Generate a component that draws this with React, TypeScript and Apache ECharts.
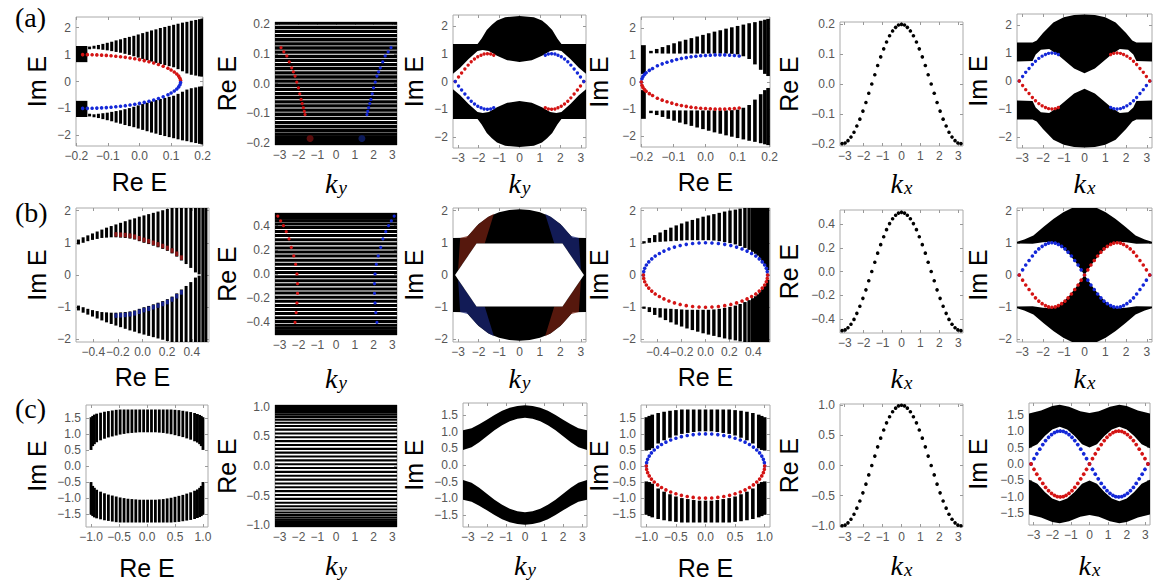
import React, { useEffect, useRef } from 'react';
import * as echarts from 'echarts';

// ================= tick values =================
const kTicks = [-3, -2, -1, 0, 1, 2, 3];
const intTicks2 = [-2, -1, 0, 1, 2];
const tenthTicks2 = [-0.2, -0.1, 0, 0.1, 0.2];
const fifthTicks4 = [-0.4, -0.2, 0, 0.2, 0.4];
const halfTicks1 = [-1, -0.5, 0, 0.5, 1];
const halfTicks15 = [-1.5, -1, -0.5, 0, 0.5, 1, 1.5];

// ================= shared k sampling (dots) =================
const kGrid = [-3.14,-2.98,-2.83,-2.67,-2.51,-2.36,-2.2,-2.04,-1.88,-1.73,-1.57,-1.41,-1.26,-1.1,-0.94,-0.79,-0.63,-0.47,-0.31,-0.16,0,0.16,0.31,0.47,0.63,0.79,0.94,1.1,1.26,1.41,1.57,1.73,1.88,2.04,2.2,2.36,2.51,2.67,2.83,2.98,3.14];
const sinK = [0,-0.16,-0.31,-0.45,-0.59,-0.71,-0.81,-0.89,-0.95,-0.99,-1,-0.99,-0.95,-0.89,-0.81,-0.71,-0.59,-0.45,-0.31,-0.16,0,0.16,0.31,0.45,0.59,0.71,0.81,0.89,0.95,0.99,1,0.99,0.95,0.89,0.81,0.71,0.59,0.45,0.31,0.16,0];
const negSinK = [0,0.16,0.31,0.45,0.59,0.71,0.81,0.89,0.95,0.99,1,0.99,0.95,0.89,0.81,0.71,0.59,0.45,0.31,0.16,0,-0.16,-0.31,-0.45,-0.59,-0.71,-0.81,-0.89,-0.95,-0.99,-1,-0.99,-0.95,-0.89,-0.81,-0.71,-0.59,-0.45,-0.31,-0.16,0];
const reEa5 = [-0.2,-0.198,-0.19,-0.178,-0.162,-0.141,-0.118,-0.091,-0.062,-0.031,0,0.031,0.062,0.091,0.118,0.141,0.162,0.178,0.19,0.198,0.2,0.198,0.19,0.178,0.162,0.141,0.118,0.091,0.062,0.031,0,-0.031,-0.062,-0.091,-0.118,-0.141,-0.162,-0.178,-0.19,-0.198,-0.2];
const reEb5 = [-0.5,-0.494,-0.476,-0.446,-0.405,-0.354,-0.294,-0.227,-0.155,-0.078,0,0.078,0.155,0.227,0.294,0.354,0.405,0.446,0.476,0.494,0.5,0.494,0.476,0.446,0.405,0.354,0.294,0.227,0.155,0.078,0,-0.078,-0.155,-0.227,-0.294,-0.354,-0.405,-0.446,-0.476,-0.494,-0.5];
const reEc5 = [-1,-0.988,-0.951,-0.891,-0.809,-0.707,-0.588,-0.454,-0.309,-0.156,0,0.156,0.309,0.454,0.588,0.707,0.809,0.891,0.951,0.988,1,0.988,0.951,0.891,0.809,0.707,0.588,0.454,0.309,0.156,0,-0.156,-0.309,-0.454,-0.588,-0.707,-0.809,-0.891,-0.951,-0.988,-1];

// ================= (a1) =================
const a1StripeX = [-0.158,-0.144,-0.13,-0.116,-0.102,-0.088,-0.074,-0.06,-0.046,-0.032,-0.018,-0.004,0.01,0.024,0.038,0.052,0.066,0.08,0.094,0.108,0.122,0.136,0.15,0.164,0.178,0.19,0.198];
const a1UpLo = [1.2,1.22,1.2,1.18,1.16,1.13,1.1,1.07,1.03,0.99,0.94,0.89,0.84,0.79,0.74,0.69,0.65,0.61,0.57,0.53,0.46,0.38,0.3,0.25,0.22,0.19,0.18];
const a1UpHi = [1.3,1.33,1.36,1.4,1.44,1.48,1.53,1.57,1.62,1.66,1.7,1.75,1.8,1.85,1.9,1.94,1.99,2.03,2.07,2.11,2.15,2.19,2.22,2.26,2.29,2.32,2.34];
const a1DnLo = [-1.3,-1.33,-1.36,-1.4,-1.44,-1.48,-1.53,-1.57,-1.62,-1.66,-1.7,-1.75,-1.8,-1.85,-1.9,-1.94,-1.99,-2.03,-2.07,-2.11,-2.15,-2.19,-2.22,-2.26,-2.29,-2.32,-2.34];
const a1DnHi = [-1.2,-1.22,-1.2,-1.18,-1.16,-1.13,-1.1,-1.07,-1.03,-0.99,-0.94,-0.89,-0.84,-0.79,-0.74,-0.69,-0.65,-0.61,-0.57,-0.53,-0.46,-0.38,-0.3,-0.25,-0.22,-0.19,-0.18];
const a1BlockUp = [[-0.201,0.72],[-0.165,0.72],[-0.165,1.32],[-0.201,1.32]];
const a1BlockDn = [[-0.201,-1.32],[-0.165,-1.32],[-0.165,-0.72],[-0.201,-0.72]];
const a1EllX = [-0.18,-0.165,-0.15,-0.135,-0.12,-0.105,-0.09,-0.075,-0.06,-0.045,-0.03,-0.015,0,0.015,0.03,0.045,0.06,0.075,0.09,0.1,0.11,0.118,0.124,0.128,0.13];
const a1RedY = [1,0.999,0.995,0.989,0.981,0.97,0.957,0.941,0.922,0.9,0.875,0.847,0.814,0.777,0.736,0.688,0.633,0.568,0.492,0.43,0.354,0.28,0.2,0.12,0.04];
const a1BlueY = [-1,-0.999,-0.995,-0.989,-0.981,-0.97,-0.957,-0.941,-0.922,-0.9,-0.875,-0.847,-0.814,-0.777,-0.736,-0.688,-0.633,-0.568,-0.492,-0.43,-0.354,-0.28,-0.2,-0.12,-0.04];

// ================= (a2) =================
const a2Levels = [0.204,0.19,0.176,0.162,0.148,0.134,0.12,0.106,0.092,0.078,0.064,0.05,0.036,0.022,0.008,-0.006,-0.02,-0.034,-0.048,-0.062,-0.076,-0.09,-0.104,-0.118,-0.132,-0.146,-0.159,-0.171,-0.181,-0.19,-0.197,-0.203];
const a2RedK = [-2.93,-2.78,-2.62,-2.49,-2.36,-2.27,-2.18,-2.09,-2.0,-1.93,-1.86,-1.8,-1.74,-1.69,-1.65];
const a2BlueK = [2.93,2.78,2.62,2.49,2.36,2.27,2.18,2.09,2.0,1.93,1.86,1.8,1.74,1.69,1.65];
const a2EdgeE = [0.121,0.107,0.093,0.073,0.053,0.039,0.025,0.005,-0.015,-0.035,-0.054,-0.068,-0.082,-0.094,-0.105];
const a2Blobs = [[-1.38,-0.186],[1.38,-0.186]];

// ================= (a3) =================
const a3Up = [[-3.25,0.28],[-3.25,1.35],[-2.05,1.35],[-1.85,1.55],[-1.6,1.86],[-1.35,2.05],[-1.1,2.2],[-0.7,2.32],[0,2.36],[0.7,2.32],[1.1,2.2],[1.35,2.05],[1.6,1.86],[1.85,1.55],[2.05,1.35],[3.25,1.35],[3.25,0.28],[2.9,0.5],[2.5,0.8],[2.2,1.0],[2.05,1.1],[1.8,1.14],[1.5,1.1],[1.1,0.93],[0.6,0.77],[0,0.7],[-0.6,0.77],[-1.1,0.93],[-1.5,1.1],[-1.8,1.14],[-2.05,1.1],[-2.2,1.0],[-2.5,0.8],[-2.9,0.5]];
const a3Dn = [[-3.25,-0.28],[-3.25,-1.35],[-2.05,-1.35],[-1.85,-1.55],[-1.6,-1.86],[-1.35,-2.05],[-1.1,-2.2],[-0.7,-2.32],[0,-2.36],[0.7,-2.32],[1.1,-2.2],[1.35,-2.05],[1.6,-1.86],[1.85,-1.55],[2.05,-1.35],[3.25,-1.35],[3.25,-0.28],[2.9,-0.5],[2.5,-0.8],[2.2,-1.0],[2.05,-1.1],[1.8,-1.14],[1.5,-1.1],[1.1,-0.93],[0.6,-0.77],[0,-0.7],[-0.6,-0.77],[-1.1,-0.93],[-1.5,-1.1],[-1.8,-1.14],[-2.05,-1.1],[-2.2,-1.0],[-2.5,-0.8],[-2.9,-0.5]];

// ================= (a4) =================
const a4StripeX = [-0.17,-0.152,-0.134,-0.116,-0.098,-0.08,-0.062,-0.044,-0.026,-0.008,0.01,0.028,0.046,0.064,0.082,0.1,0.118,0.136,0.154,0.172,0.185,0.195];
const a4UpLo = [1.06,1.06,1.05,1.05,1.05,1.05,1.05,1.05,1.05,1.05,1.05,1.05,1.05,1.05,1.04,1.02,0.95,0.85,0.65,0.45,0.3,0.22];
const a4UpHi = [1.15,1.22,1.29,1.36,1.43,1.5,1.56,1.62,1.68,1.74,1.8,1.86,1.91,1.97,2.02,2.07,2.12,2.17,2.21,2.26,2.3,2.33];
const a4DnLo = [-1.15,-1.22,-1.29,-1.36,-1.43,-1.5,-1.56,-1.62,-1.68,-1.74,-1.8,-1.86,-1.91,-1.97,-2.02,-2.07,-2.12,-2.17,-2.21,-2.26,-2.3,-2.33];
const a4DnHi = [-1.06,-1.06,-1.05,-1.05,-1.05,-1.05,-1.05,-1.05,-1.05,-1.05,-1.05,-1.05,-1.05,-1.05,-1.04,-1.02,-0.95,-0.85,-0.65,-0.45,-0.3,-0.22];
const a4BlockUp = [[-0.201,0.3],[-0.186,0.3],[-0.186,1.36],[-0.201,1.36]];
const a4BlockDn = [[-0.201,-1.36],[-0.186,-1.36],[-0.186,-0.3],[-0.201,-0.3]];
const a4EllX = [-0.2,-0.198,-0.195,-0.19,-0.185,-0.175,-0.165,-0.15,-0.135,-0.12,-0.105,-0.09,-0.075,-0.06,-0.045,-0.03,-0.015,0,0.015,0.03,0.045,0.06,0.075,0.09,0.105];
const a4BlueY = [0,0.12,0.2,0.28,0.34,0.43,0.5,0.6,0.67,0.73,0.78,0.83,0.87,0.9,0.93,0.95,0.97,0.98,0.99,1.0,1.0,1.0,0.99,0.98,0.96];
const a4RedY = [0,-0.12,-0.2,-0.28,-0.34,-0.43,-0.5,-0.6,-0.67,-0.73,-0.78,-0.83,-0.87,-0.9,-0.93,-0.95,-0.97,-0.98,-0.99,-1.0,-1.0,-1.0,-0.99,-0.98,-0.96];

// ================= (a6) =================
const a6Up = [[-3.25,0.7],[-3.25,1.38],[-2.5,1.38],[-2.3,1.45],[-2.0,1.72],[-1.5,2.1],[-1.0,2.28],[-0.5,2.36],[0,2.38],[0.5,2.36],[1.0,2.28],[1.5,2.1],[2.0,1.72],[2.3,1.45],[2.5,1.38],[3.25,1.38],[3.25,0.7],[2.5,0.72],[2.35,0.95],[2.1,1.12],[1.7,1.15],[1.3,0.95],[0.9,0.7],[0.5,0.45],[0,0.28],[-0.5,0.45],[-0.9,0.7],[-1.3,0.95],[-1.7,1.15],[-2.1,1.12],[-2.35,0.95],[-2.5,0.72]];
const a6Dn = [[-3.25,-0.7],[-3.25,-1.38],[-2.5,-1.38],[-2.3,-1.45],[-2.0,-1.72],[-1.5,-2.1],[-1.0,-2.28],[-0.5,-2.36],[0,-2.38],[0.5,-2.36],[1.0,-2.28],[1.5,-2.1],[2.0,-1.72],[2.3,-1.45],[2.5,-1.38],[3.25,-1.38],[3.25,-0.7],[2.5,-0.72],[2.35,-0.95],[2.1,-1.12],[1.7,-1.15],[1.3,-0.95],[0.9,-0.7],[0.5,-0.45],[0,-0.28],[-0.5,-0.45],[-0.9,-0.7],[-1.3,-0.95],[-1.7,-1.15],[-2.1,-1.12],[-2.35,-0.95],[-2.5,-0.72]];

// ================= (b1) =================
const b1StripeX = [-0.52,-0.482,-0.444,-0.406,-0.368,-0.33,-0.292,-0.254,-0.216,-0.178,-0.14,-0.102,-0.064,-0.026,0.012,0.05,0.088,0.126,0.164,0.202,0.24,0.278,0.316,0.354,0.392,0.43,0.46,0.49,0.515];
const b1UpLo = [0.95,1.0,1.05,1.09,1.12,1.15,1.16,1.17,1.17,1.16,1.15,1.13,1.1,1.05,1.0,0.96,0.91,0.86,0.81,0.75,0.67,0.57,0.45,0.34,0.22,0.08,0.02,0.0,0.0];
const b1UpHi = [1.1,1.17,1.23,1.29,1.35,1.41,1.47,1.52,1.57,1.62,1.67,1.72,1.76,1.81,1.85,1.89,1.93,1.97,2.01,2.05,2.08,2.08,2.08,2.08,2.08,2.08,2.08,2.08,2.08];
const b1DnLo = [-1.1,-1.17,-1.23,-1.29,-1.35,-1.41,-1.47,-1.52,-1.57,-1.62,-1.67,-1.72,-1.76,-1.81,-1.85,-1.89,-1.93,-1.97,-2.01,-2.05,-2.08,-2.08,-2.08,-2.08,-2.08,-2.08,-2.08,-2.08,-2.08];
const b1DnHi = [-0.95,-1.0,-1.05,-1.09,-1.12,-1.15,-1.16,-1.17,-1.17,-1.16,-1.15,-1.13,-1.1,-1.05,-1.0,-0.96,-0.91,-0.86,-0.81,-0.75,-0.67,-0.57,-0.45,-0.34,-0.22,-0.08,-0.02,0.0,0.0];
const b1TintX = [-0.216,-0.178,-0.14,-0.102,-0.064,-0.026,0.012,0.05,0.088,0.126,0.164,0.202,0.24,0.278,0.316];
const b1RedLo = [1.19,1.18,1.17,1.15,1.12,1.07,1.02,0.98,0.93,0.88,0.83,0.77,0.69,0.59,0.47];
const b1RedHi = [1.33,1.32,1.31,1.29,1.26,1.21,1.16,1.12,1.07,1.02,0.97,0.91,0.83,0.73,0.61];
const b1BlueLo = [-1.33,-1.32,-1.31,-1.29,-1.26,-1.21,-1.16,-1.12,-1.07,-1.02,-0.97,-0.91,-0.83,-0.73,-0.61];
const b1BlueHi = [-1.19,-1.18,-1.17,-1.15,-1.12,-1.07,-1.02,-0.98,-0.93,-0.88,-0.83,-0.77,-0.69,-0.59,-0.47];

// ================= (b2) =================
const b2Levels = [0.5,0.49,0.478,0.462,0.44,0.414,0.384,0.352,0.318,0.284,0.25,0.216,0.182,0.148,0.114,0.08,0.046,0.012,-0.022,-0.056,-0.09,-0.124,-0.158,-0.192,-0.226,-0.26,-0.294,-0.328,-0.362,-0.394,-0.424,-0.45,-0.47,-0.486,-0.498,-0.505];
const b2RedK = [-3.1,-2.95,-2.8,-2.65,-2.5,-2.38,-2.25,-2.15,-2.08,-2.05,-2.05,-2.08,-2.12,-2.18];
const b2BlueK = [3.1,2.95,2.8,2.65,2.5,2.38,2.25,2.15,2.08,2.05,2.05,2.08,2.12,2.18];
const b2EdgeE = [0.48,0.44,0.4,0.35,0.29,0.22,0.15,0.08,0.0,-0.08,-0.16,-0.24,-0.32,-0.4];

// ================= (b3) =================
const b3Outer = [[-3.25,1.15],[-2.6,1.16],[-2.4,1.3],[-2.0,1.58],[-1.5,1.82],[-1.0,1.95],[-0.5,2.02],[0,2.04],[0.5,2.02],[1.0,1.95],[1.5,1.82],[2.0,1.58],[2.4,1.3],[2.6,1.16],[3.25,1.15],[3.25,-1.15],[2.6,-1.16],[2.4,-1.3],[2.0,-1.58],[1.5,-1.82],[1.0,-1.95],[0.5,-2.02],[0,-2.04],[-0.5,-2.02],[-1.0,-1.95],[-1.5,-1.82],[-2.0,-1.58],[-2.4,-1.3],[-2.6,-1.16],[-3.25,-1.15]];
const b3Hole = [[-3.15,0],[-2.1,0.98],[2.1,0.98],[3.15,0],[2.1,-0.98],[-2.1,-0.98]];
const b3RedUL = [[-3.0,0.15],[-2.1,0.98],[-1.7,0.98],[-1.25,1.9],[-1.6,1.78],[-2.1,1.52],[-2.5,1.22],[-2.9,1.15]];
const b3BlueUR = [[3.0,0.15],[2.1,0.98],[1.7,0.98],[1.25,1.9],[1.6,1.78],[2.1,1.52],[2.5,1.22],[2.9,1.15]];
const b3BlueLL = [[-3.0,-0.15],[-2.1,-0.98],[-1.7,-0.98],[-1.25,-1.9],[-1.6,-1.78],[-2.1,-1.52],[-2.5,-1.22],[-2.9,-1.15]];
const b3RedLR = [[3.0,-0.15],[2.1,-0.98],[1.7,-0.98],[1.25,-1.9],[1.6,-1.78],[2.1,-1.52],[2.5,-1.22],[2.9,-1.15]];

// ================= (b4) =================
const b4StripeX = [-0.515,-0.47,-0.425,-0.38,-0.335,-0.29,-0.245,-0.2,-0.155,-0.11,-0.065,-0.02,0.025,0.07,0.115,0.16,0.205,0.25,0.29,0.33,0.365,0.395,0.42,0.44,0.46,0.48,0.5,0.52];
const b4UpLo = [0.98,1.0,1.02,1.03,1.04,1.05,1.06,1.07,1.08,1.08,1.08,1.08,1.08,1.07,1.05,1.02,0.99,0.95,0.9,0.84,0.78,0.72,0.66,0.6,0.52,0.43,0.32,0.15];
const b4UpHi = [1.05,1.15,1.24,1.32,1.4,1.47,1.54,1.6,1.66,1.71,1.76,1.81,1.85,1.89,1.93,1.97,2.0,2.03,2.06,2.08,2.08,2.08,2.08,2.08,2.08,2.08,2.08,2.08];
const b4DnLo = [-1.05,-1.15,-1.24,-1.32,-1.4,-1.47,-1.54,-1.6,-1.66,-1.71,-1.76,-1.81,-1.85,-1.89,-1.93,-1.97,-2.0,-2.03,-2.06,-2.08,-2.08,-2.08,-2.08,-2.08,-2.08,-2.08,-2.08,-2.08];
const b4DnHi = [-0.98,-1.0,-1.02,-1.03,-1.04,-1.05,-1.06,-1.07,-1.08,-1.08,-1.08,-1.08,-1.08,-1.07,-1.05,-1.02,-0.99,-0.95,-0.9,-0.84,-0.78,-0.72,-0.66,-0.6,-0.52,-0.43,-0.32,-0.15];
const b4EllX = [-0.52,-0.517,-0.509,-0.495,-0.475,-0.45,-0.421,-0.386,-0.348,-0.306,-0.26,-0.212,-0.161,-0.108,-0.054,0,0.054,0.108,0.161,0.212,0.26,0.306,0.348,0.386,0.421,0.45,0.475,0.495,0.509,0.517,0.52];
const ellUpY = [0,0.105,0.208,0.309,0.407,0.5,0.588,0.669,0.743,0.809,0.866,0.914,0.951,0.978,0.995,1,0.995,0.978,0.951,0.914,0.866,0.809,0.743,0.669,0.588,0.5,0.407,0.309,0.208,0.105,0];
const ellDnY = [0,-0.105,-0.208,-0.309,-0.407,-0.5,-0.588,-0.669,-0.743,-0.809,-0.866,-0.914,-0.951,-0.978,-0.995,-1,-0.995,-0.978,-0.951,-0.914,-0.866,-0.809,-0.743,-0.669,-0.588,-0.5,-0.407,-0.309,-0.208,-0.105,0];

// ================= (b6) =================
const b6Up = [[-3.25,0.98],[-3.25,1.03],[-2.9,1.1],[-2.46,1.23],[-1.98,1.49],[-1.5,1.74],[-1.02,1.95],[-0.6,2.08],[0.6,2.08],[1.02,1.95],[1.5,1.74],[1.98,1.49],[2.46,1.23],[2.9,1.1],[3.25,1.03],[3.25,0.98],[2.5,0.97],[2.0,1.02],[1.6,1.03],[1.3,0.96],[1.0,0.82],[0.7,0.62],[0.4,0.37],[0,0.0],[-0.4,0.37],[-0.7,0.62],[-1.0,0.82],[-1.3,0.96],[-1.6,1.03],[-2.0,1.02],[-2.5,0.97]];
const b6Dn = [[-3.25,-0.98],[-3.25,-1.03],[-2.9,-1.1],[-2.46,-1.23],[-1.98,-1.49],[-1.5,-1.74],[-1.02,-1.95],[-0.6,-2.08],[0.6,-2.08],[1.02,-1.95],[1.5,-1.74],[1.98,-1.49],[2.46,-1.23],[2.9,-1.1],[3.25,-1.03],[3.25,-0.98],[2.5,-0.97],[2.0,-1.02],[1.6,-1.03],[1.3,-0.96],[1.0,-0.82],[0.7,-0.62],[0.4,-0.37],[0,0.0],[-0.4,-0.37],[-0.7,-0.62],[-1.0,-0.82],[-1.3,-0.96],[-1.6,-1.03],[-2.0,-1.02],[-2.5,-0.97]];

// ================= (c1) =================
const c1StripeX = [-1.0,-0.97,-0.94,-0.9,-0.83,-0.76,-0.69,-0.62,-0.55,-0.48,-0.41,-0.34,-0.27,-0.2,-0.13,-0.06,0.01,0.08,0.15,0.22,0.29,0.36,0.43,0.5,0.57,0.64,0.71,0.78,0.85,0.9,0.94,0.97,1.0];
const c1UpLo = [0.5,0.62,0.68,0.74,0.8,0.85,0.89,0.92,0.95,0.98,1.0,1.02,1.03,1.04,1.05,1.05,1.05,1.05,1.05,1.04,1.03,1.01,0.99,0.96,0.93,0.9,0.86,0.82,0.77,0.73,0.68,0.62,0.5];
const c1UpHi = [1.52,1.56,1.6,1.63,1.66,1.69,1.71,1.73,1.75,1.76,1.76,1.76,1.76,1.76,1.76,1.76,1.76,1.76,1.76,1.76,1.76,1.76,1.76,1.75,1.74,1.72,1.7,1.68,1.65,1.62,1.59,1.56,1.52];
const c1DnLo = [-1.52,-1.56,-1.6,-1.63,-1.66,-1.69,-1.71,-1.73,-1.75,-1.76,-1.76,-1.76,-1.76,-1.76,-1.76,-1.76,-1.76,-1.76,-1.76,-1.76,-1.76,-1.76,-1.76,-1.75,-1.74,-1.72,-1.7,-1.68,-1.65,-1.62,-1.59,-1.56,-1.52];
const c1DnHi = [-0.5,-0.62,-0.68,-0.74,-0.8,-0.85,-0.89,-0.92,-0.95,-0.98,-1.0,-1.02,-1.03,-1.04,-1.05,-1.05,-1.05,-1.05,-1.05,-1.04,-1.03,-1.01,-0.99,-0.96,-0.93,-0.9,-0.86,-0.82,-0.77,-0.73,-0.68,-0.62,-0.5];

// ================= (c2) =================
const c2Levels = [1.02,1.0,0.98,0.955,0.93,0.9,0.865,0.825,0.78,0.73,0.675,0.615,0.55,0.485,0.42,0.355,0.29,0.225,0.16,0.095,0.03,-0.035,-0.1,-0.165,-0.23,-0.295,-0.36,-0.425,-0.49,-0.555,-0.62,-0.68,-0.735,-0.785,-0.83,-0.87,-0.905,-0.935,-0.96,-0.98,-1.0,-1.02];

// ================= (c3) =================
const c3Up = [[-3.25,0.45],[-3.25,1.04],[-2.8,1.1],[-2.4,1.22],[-2.0,1.36],[-1.6,1.5],[-1.2,1.63],[-0.8,1.72],[-0.4,1.77],[0,1.79],[0.4,1.77],[0.8,1.72],[1.2,1.63],[1.6,1.5],[2.0,1.36],[2.4,1.22],[2.8,1.1],[3.25,1.04],[3.25,0.45],[2.8,0.53],[2.4,0.68],[2.0,0.86],[1.6,1.04],[1.2,1.19],[0.8,1.31],[0.4,1.39],[0,1.42],[-0.4,1.39],[-0.8,1.31],[-1.2,1.19],[-1.6,1.04],[-2.0,0.86],[-2.4,0.68],[-2.8,0.53]];
const c3Dn = [[-3.25,-0.45],[-3.25,-1.04],[-2.8,-1.1],[-2.4,-1.22],[-2.0,-1.36],[-1.6,-1.5],[-1.2,-1.63],[-0.8,-1.72],[-0.4,-1.77],[0,-1.79],[0.4,-1.77],[0.8,-1.72],[1.2,-1.63],[1.6,-1.5],[2.0,-1.36],[2.4,-1.22],[2.8,-1.1],[3.25,-1.04],[3.25,-0.45],[2.8,-0.53],[2.4,-0.68],[2.0,-0.86],[1.6,-1.04],[1.2,-1.19],[0.8,-1.31],[0.4,-1.39],[0,-1.42],[-0.4,-1.39],[-0.8,-1.31],[-1.2,-1.19],[-1.6,-1.04],[-2.0,-0.86],[-2.4,-0.68],[-2.8,-0.53]];

// ================= (c4) =================
const c4StripeX = [-1.0,-0.95,-0.9,-0.8,-0.7,-0.6,-0.5,-0.4,-0.3,-0.2,-0.1,0,0.1,0.2,0.3,0.4,0.5,0.6,0.7,0.8,0.9,0.95,1.0];
const c4UpLo = [0.48,0.5,0.55,0.7,0.8,0.88,0.95,1.0,1.03,1.06,1.08,1.08,1.08,1.06,1.03,1.0,0.95,0.88,0.8,0.7,0.55,0.5,0.48];
const c4UpHi = [1.52,1.56,1.6,1.65,1.69,1.72,1.74,1.76,1.76,1.76,1.76,1.76,1.76,1.76,1.76,1.76,1.74,1.72,1.69,1.65,1.6,1.56,1.52];
const c4DnLo = [-1.52,-1.56,-1.6,-1.65,-1.69,-1.72,-1.74,-1.76,-1.76,-1.76,-1.76,-1.76,-1.76,-1.76,-1.76,-1.76,-1.74,-1.72,-1.69,-1.65,-1.6,-1.56,-1.52];
const c4DnHi = [-0.48,-0.5,-0.55,-0.7,-0.8,-0.88,-0.95,-1.0,-1.03,-1.06,-1.08,-1.08,-1.08,-1.06,-1.03,-1.0,-0.95,-0.88,-0.8,-0.7,-0.55,-0.5,-0.48];
const c4EllX = [-1,-0.995,-0.978,-0.951,-0.914,-0.866,-0.809,-0.743,-0.669,-0.588,-0.5,-0.407,-0.309,-0.208,-0.105,0,0.105,0.208,0.309,0.407,0.5,0.588,0.669,0.743,0.809,0.866,0.914,0.951,0.978,0.995,1];

// ================= (c6) =================
const c6Up = [[-3.25,0.48],[-3.25,1.53],[-2.6,1.62],[-2.0,1.76],[-1.6,1.8],[-1.1,1.74],[-0.5,1.6],[0,1.55],[0.5,1.6],[1.1,1.74],[1.6,1.8],[2.0,1.76],[2.6,1.62],[3.25,1.53],[3.25,0.48],[2.8,0.6],[2.4,0.85],[2.0,1.05],[1.6,1.13],[1.2,1.05],[0.8,0.85],[0.4,0.6],[0,0.5],[-0.4,0.6],[-0.8,0.85],[-1.2,1.05],[-1.6,1.13],[-2.0,1.05],[-2.4,0.85],[-2.8,0.6]];
const c6Dn = [[-3.25,-0.48],[-3.25,-1.53],[-2.6,-1.62],[-2.0,-1.76],[-1.6,-1.8],[-1.1,-1.74],[-0.5,-1.6],[0,-1.55],[0.5,-1.6],[1.1,-1.74],[1.6,-1.8],[2.0,-1.76],[2.6,-1.62],[3.25,-1.53],[3.25,-0.48],[2.8,-0.6],[2.4,-0.85],[2.0,-1.05],[1.6,-1.13],[1.2,-1.05],[0.8,-0.85],[0.4,-0.6],[0,-0.5],[-0.4,-0.6],[-0.8,-0.85],[-1.2,-1.05],[-1.6,-1.13],[-2.0,-1.05],[-2.4,-0.85],[-2.8,-0.6]];

// ================= layout (positions / styles) =================
const RED = '#d41414';
const BLUE = '#1428d8';
const BLACK = '#000000';
const ROW_NAME_Y = [182, 377, 568];
const ROW_K_Y = [183, 378, 565];
const COL_NAME_X = [37, 227, 414, 599, 789, 978];

type Panel = { id: string; row: number; col: number; left: number; top: number; width: number; height: number;
  x: number[]; y: number[]; xt: number[]; xd: number; yt: number[]; yd: number; xn: string; yn: string };

const PANELS: Panel[] = [
  { id: 'a1', row: 0, col: 0, left: 76, top: 17, width: 127, height: 129, x: [-0.201, 0.201], y: [-2.4, 2.4], xt: tenthTicks2, xd: 1, yt: intTicks2, yd: 0, xn: 'Re E', yn: 'Im E' },
  { id: 'a2', row: 0, col: 1, left: 275, top: 22, width: 122, height: 123, x: [-3.25, 3.25], y: [-0.208, 0.208], xt: kTicks, xd: 0, yt: tenthTicks2, yd: 1, xn: 'ky', yn: 'Re E' },
  { id: 'a3', row: 0, col: 2, left: 453, top: 15, width: 133, height: 133, x: [-3.25, 3.25], y: [-2.4, 2.4], xt: kTicks, xd: 0, yt: intTicks2, yd: 0, xn: 'ky', yn: 'Im E' },
  { id: 'a4', row: 0, col: 3, left: 641, top: 17, width: 129, height: 130, x: [-0.201, 0.201], y: [-2.4, 2.4], xt: tenthTicks2, xd: 1, yt: intTicks2, yd: 0, xn: 'Re E', yn: 'Im E' },
  { id: 'a5', row: 0, col: 4, left: 840, top: 22, width: 123, height: 124, x: [-3.25, 3.25], y: [-0.208, 0.208], xt: kTicks, xd: 0, yt: tenthTicks2, yd: 1, xn: 'kx', yn: 'Re E' },
  { id: 'a6', row: 0, col: 5, left: 1017, top: 14, width: 135, height: 134, x: [-3.25, 3.25], y: [-2.4, 2.4], xt: kTicks, xd: 0, yt: intTicks2, yd: 0, xn: 'kx', yn: 'Im E' },
  { id: 'b1', row: 1, col: 0, left: 76, top: 208, width: 133, height: 134, x: [-0.54, 0.54], y: [-2.08, 2.08], xt: fifthTicks4, xd: 1, yt: intTicks2, yd: 0, xn: 'Re E', yn: 'Im E' },
  { id: 'b2', row: 1, col: 1, left: 275, top: 213, width: 122, height: 122, x: [-3.25, 3.25], y: [-0.505, 0.505], xt: kTicks, xd: 0, yt: fifthTicks4, yd: 1, xn: 'ky', yn: 'Re E' },
  { id: 'b3', row: 1, col: 2, left: 453, top: 208, width: 133, height: 134, x: [-3.25, 3.25], y: [-2.08, 2.08], xt: kTicks, xd: 0, yt: intTicks2, yd: 0, xn: 'ky', yn: 'Im E' },
  { id: 'b4', row: 1, col: 3, left: 641, top: 208, width: 129, height: 134, x: [-0.54, 0.54], y: [-2.08, 2.08], xt: fifthTicks4, xd: 1, yt: intTicks2, yd: 0, xn: 'Re E', yn: 'Im E' },
  { id: 'b5', row: 1, col: 4, left: 840, top: 210, width: 123, height: 123, x: [-3.25, 3.25], y: [-0.52, 0.52], xt: kTicks, xd: 0, yt: fifthTicks4, yd: 1, xn: 'kx', yn: 'Re E' },
  { id: 'b6', row: 1, col: 5, left: 1017, top: 208, width: 135, height: 134, x: [-3.25, 3.25], y: [-2.08, 2.08], xt: kTicks, xd: 0, yt: intTicks2, yd: 0, xn: 'kx', yn: 'Im E' },
  { id: 'c1', row: 2, col: 0, left: 86, top: 405, width: 122, height: 122, x: [-1.09, 1.09], y: [-1.9, 1.9], xt: halfTicks1, xd: 1, yt: halfTicks15, yd: 1, xn: 'Re E', yn: 'Im E' },
  { id: 'c2', row: 2, col: 1, left: 275, top: 405, width: 122, height: 122, x: [-3.25, 3.25], y: [-1.03, 1.03], xt: kTicks, xd: 0, yt: halfTicks1, yd: 1, xn: 'ky', yn: 'Re E' },
  { id: 'c3', row: 2, col: 2, left: 463, top: 403, width: 124, height: 124, x: [-3.25, 3.25], y: [-1.86, 1.86], xt: kTicks, xd: 0, yt: halfTicks15, yd: 1, xn: 'ky', yn: 'Im E' },
  { id: 'c4', row: 2, col: 3, left: 641, top: 405, width: 129, height: 122, x: [-1.09, 1.09], y: [-1.9, 1.9], xt: halfTicks1, xd: 1, yt: halfTicks15, yd: 1, xn: 'Re E', yn: 'Im E' },
  { id: 'c5', row: 2, col: 4, left: 840, top: 404, width: 123, height: 123, x: [-3.25, 3.25], y: [-1.02, 1.02], xt: kTicks, xd: 0, yt: halfTicks1, yd: 1, xn: 'kx', yn: 'Re E' },
  { id: 'c6', row: 2, col: 5, left: 1029, top: 403, width: 121, height: 122, x: [-3.25, 3.25], y: [-1.85, 1.85], xt: kTicks, xd: 0, yt: halfTicks15, yd: 1, xn: 'kx', yn: 'Im E' },
];

// ================= helpers =================
const zip = (xs: number[], ys: number[]) => xs.map((x, i) => [x, ys[i]]);
const vStripes = (xs: number[], lo: number[], hi: number[]) => xs.map((x, i) => [x, lo[i], x, hi[i]]);
const hLines = (levels: number[]) => levels.map((y) => [-3.3, y, 3.3, y]);
const visible = (pts: number[][], minAbsK: number) => pts.filter((p) => Math.abs(p[0]) >= minAbsK);

function polySeries(gi: number, polys: number[][][], fill: string, opacity = 1, z = 2) {
  return {
    type: 'custom', xAxisIndex: gi, yAxisIndex: gi, silent: true, clip: true, z,
    data: polys.map((pl, i) => [pl[0][0], pl[0][1], i]),
    encode: { x: 0, y: 1 },
    renderItem: (_p: any, api: any) => ({
      type: 'polygon',
      shape: { points: polys[api.value(2)].map((pt) => api.coord(pt)) },
      style: { fill, opacity },
    }),
  };
}

function segSeries(gi: number, segs: number[][], stroke: string, lineWidth: number, z = 3) {
  return {
    type: 'custom', xAxisIndex: gi, yAxisIndex: gi, silent: true, clip: true, z,
    data: segs,
    encode: { x: [0, 2], y: [1, 3] },
    renderItem: (_p: any, api: any) => {
      const a = api.coord([api.value(0), api.value(1)]);
      const b = api.coord([api.value(2), api.value(3)]);
      return { type: 'line', shape: { x1: a[0], y1: a[1], x2: b[0], y2: b[1] }, style: { stroke, lineWidth } };
    },
  };
}

function dotSeries(gi: number, pts: number[][], color: string, size = 3.6, z = 6) {
  return {
    type: 'scatter', xAxisIndex: gi, yAxisIndex: gi, silent: true, clip: true, z,
    data: pts, symbol: 'circle', symbolSize: size, itemStyle: { color, opacity: 1 },
  };
}

function panelSeries(id: string, gi: number): any[] {
  switch (id) {
    case 'a1': return [
      polySeries(gi, [a1BlockUp, a1BlockDn], BLACK),
      segSeries(gi, vStripes(a1StripeX, a1UpLo, a1UpHi), BLACK, 3),
      segSeries(gi, vStripes(a1StripeX, a1DnLo, a1DnHi), BLACK, 3),
      dotSeries(gi, zip(a1EllX, a1RedY), RED, 3.6),
      dotSeries(gi, zip(a1EllX, a1BlueY), BLUE, 3.6),
    ];
    case 'a2': return [
      segSeries(gi, hLines(a2Levels), BLACK, 3.3),
      dotSeries(gi, zip(a2RedK, a2EdgeE), RED, 3.2),
      dotSeries(gi, zip(a2BlueK, a2EdgeE), BLUE, 3.2),
      dotSeries(gi, [a2Blobs[0]], '#5a0c0c', 7),
      dotSeries(gi, [a2Blobs[1]], '#0c1a5a', 7),
    ];
    case 'a3': return [
      polySeries(gi, [a3Up, a3Dn], BLACK),
      dotSeries(gi, visible(zip(kGrid, negSinK), 1.26), RED, 3.4),
      dotSeries(gi, visible(zip(kGrid, sinK), 1.26), BLUE, 3.4),
    ];
    case 'a4': return [
      polySeries(gi, [a4BlockUp, a4BlockDn], BLACK),
      segSeries(gi, vStripes(a4StripeX, a4UpLo, a4UpHi), BLACK, 3.6),
      segSeries(gi, vStripes(a4StripeX, a4DnLo, a4DnHi), BLACK, 3.6),
      dotSeries(gi, zip(a4EllX, a4BlueY), BLUE, 3.6),
      dotSeries(gi, zip(a4EllX, a4RedY), RED, 3.6),
    ];
    case 'a5': return [dotSeries(gi, zip(kGrid, reEa5), BLACK, 3.6)];
    case 'a6': return [
      polySeries(gi, [a6Up, a6Dn], BLACK),
      dotSeries(gi, visible(zip(kGrid, negSinK), 1.26), BLUE, 3.4),
      dotSeries(gi, visible(zip(kGrid, sinK), 1.26), RED, 3.4),
    ];
    case 'b1': return [
      segSeries(gi, vStripes(b1StripeX, b1UpLo, b1UpHi), BLACK, 3),
      segSeries(gi, vStripes(b1StripeX, b1DnLo, b1DnHi), BLACK, 3),
      segSeries(gi, vStripes(b1TintX, b1RedLo, b1RedHi), '#8a1414', 3, 4),
      segSeries(gi, vStripes(b1TintX, b1BlueLo, b1BlueHi), '#14208a', 3, 4),
    ];
    case 'b2': return [
      segSeries(gi, hLines(b2Levels), BLACK, 3),
      dotSeries(gi, zip(b2RedK, b2EdgeE), RED, 3.2),
      dotSeries(gi, zip(b2BlueK, b2EdgeE), BLUE, 3.2),
    ];
    case 'b3': return [
      polySeries(gi, [b3Outer], BLACK, 1, 2),
      polySeries(gi, [b3RedUL, b3RedLR], '#7a2212', 0.7, 3),
      polySeries(gi, [b3BlueUR, b3BlueLL], '#1a267a', 0.7, 3),
      polySeries(gi, [b3Hole], '#ffffff', 1, 4),
    ];
    case 'b4': return [
      segSeries(gi, vStripes(b4StripeX, b4UpLo, b4UpHi), BLACK, 3.4),
      segSeries(gi, vStripes(b4StripeX, b4DnLo, b4DnHi), BLACK, 3.4),
      dotSeries(gi, zip(b4EllX, ellUpY), BLUE, 3.6),
      dotSeries(gi, zip(b4EllX, ellDnY), RED, 3.6),
    ];
    case 'b5': return [dotSeries(gi, zip(kGrid, reEb5), BLACK, 3.6)];
    case 'b6': return [
      polySeries(gi, [b6Up, b6Dn], BLACK),
      dotSeries(gi, zip(kGrid, negSinK), BLUE, 3.6),
      dotSeries(gi, zip(kGrid, sinK), RED, 3.6),
    ];
    case 'c1': return [
      segSeries(gi, vStripes(c1StripeX, c1UpLo, c1UpHi), BLACK, 2.8),
      segSeries(gi, vStripes(c1StripeX, c1DnLo, c1DnHi), BLACK, 2.8),
    ];
    case 'c2': return [segSeries(gi, hLines(c2Levels), BLACK, 2.1)];
    case 'c3': return [polySeries(gi, [c3Up, c3Dn], BLACK)];
    case 'c4': return [
      segSeries(gi, vStripes(c4StripeX, c4UpLo, c4UpHi), BLACK, 3.6),
      segSeries(gi, vStripes(c4StripeX, c4DnLo, c4DnHi), BLACK, 3.6),
      dotSeries(gi, zip(c4EllX, ellUpY), BLUE, 3.6),
      dotSeries(gi, zip(c4EllX, ellDnY), RED, 3.6),
    ];
    case 'c5': return [dotSeries(gi, zip(kGrid, reEc5), BLACK, 3.6)];
    case 'c6': return [
      polySeries(gi, [c6Up, c6Dn], BLACK),
      dotSeries(gi, zip(kGrid, negSinK), BLUE, 3.8),
      dotSeries(gi, zip(kGrid, sinK), RED, 3.8),
    ];
  }
  return [];
}

const fmt = (d: number) => (v: number) => {
  const s = Number(v).toFixed(d);
  return s.startsWith('-') ? '\u2212' + s.slice(1) : s;
};

function buildOption() {
  const grid: any[] = [];
  const xAxis: any[] = [];
  const yAxis: any[] = [];
  const xAxisTop: any[] = [];
  const yAxisRight: any[] = [];
  const series: any[] = [];
  const graphic: any[] = [];
  const tickLabel = { fontSize: 12, color: '#555', fontFamily: 'Liberation Sans' };
  const tickStyle = { show: true, inside: true, length: 3, lineStyle: { color: '#999' } };

  PANELS.forEach((p, gi) => {
    grid.push({ left: p.left, top: p.top, width: p.width, height: p.height, show: true, borderColor: '#aaaaaa', borderWidth: 1, backgroundColor: 'transparent', containLabel: false });
    xAxis.push({
      type: 'value', gridIndex: gi, position: 'bottom', min: p.x[0], max: p.x[1], splitLine: { show: false },
      axisLine: { show: false, onZero: false },
      axisTick: { ...tickStyle, customValues: p.xt },
      axisLabel: { ...tickLabel, margin: 4, customValues: p.xt, formatter: fmt(p.xd) },
    });
    yAxis.push({
      type: 'value', gridIndex: gi, position: 'left', min: p.y[0], max: p.y[1], splitLine: { show: false },
      axisLine: { show: false, onZero: false },
      axisTick: { ...tickStyle, customValues: p.yt },
      axisLabel: { ...tickLabel, margin: 5, customValues: p.yt, formatter: fmt(p.yd) },
    });
    xAxisTop.push({
      type: 'value', gridIndex: gi, position: 'top', min: p.x[0], max: p.x[1], splitLine: { show: false },
      axisLine: { show: false, onZero: false },
      axisTick: { ...tickStyle, customValues: p.xt },
      axisLabel: { show: false },
    });
    yAxisRight.push({
      type: 'value', gridIndex: gi, position: 'right', min: p.y[0], max: p.y[1], splitLine: { show: false },
      axisLine: { show: false, onZero: false },
      axisTick: { ...tickStyle, customValues: p.yt },
      axisLabel: { show: false },
    });
    series.push(...panelSeries(p.id, gi));

    // axis names
    const cx = p.left + p.width / 2;
    const cy = p.top + p.height / 2;
    graphic.push({
      type: 'text', x: COL_NAME_X[p.col], y: cy, rotation: Math.PI / 2, silent: true,
      style: { text: p.yn, fontSize: 25, fontFamily: 'Liberation Sans', fill: '#000', align: 'center', verticalAlign: 'middle' },
    });
    if (p.xn === 'Re E') {
      graphic.push({
        type: 'text', x: cx, y: ROW_NAME_Y[p.row], silent: true,
        style: { text: 'Re E', fontSize: 25, fontFamily: 'Liberation Sans', fill: '#000', align: 'center', verticalAlign: 'middle' },
      });
    } else {
      const sub = p.xn === 'ky' ? 'y' : 'x';
      graphic.push({
        type: 'text', x: cx, y: ROW_K_Y[p.row], silent: true,
        style: {
          text: '{k|k}{s|' + sub + '}', align: 'center', verticalAlign: 'middle',
          rich: {
            k: { fontSize: 28, fontFamily: 'Liberation Serif', fontStyle: 'italic', fill: '#000', lineHeight: 28, verticalAlign: 'top' },
            s: { fontSize: 19, fontFamily: 'Liberation Serif', fontStyle: 'italic', fill: '#000', lineHeight: 19, padding: [12, 0, 0, 1], verticalAlign: 'bottom' },
          },
        },
      });
    }
  });

  ['(a)', '(b)', '(c)'].forEach((t, i) => {
    graphic.push({
      type: 'text', x: 15, y: [3, 198, 394][i], silent: true,
      style: { text: t, fontSize: 28, fontFamily: 'Liberation Serif', fill: '#000', align: 'left', verticalAlign: 'top' },
    });
  });

  return {
    animation: false, backgroundColor: '#ffffff', grid,
    xAxis: [...xAxis, ...xAxisTop], yAxis: [...yAxis, ...yAxisRight], series, graphic,
  };
}

export default function App() {
  const ref = useRef<HTMLDivElement>(null);
  useEffect(() => {
    document.body.style.margin = '0';
    if (!ref.current) return;
    const chart = echarts.init(ref.current, null, { renderer: 'svg' });
    chart.setOption(buildOption() as any);
    return () => chart.dispose();
  }, []);
  return <div ref={ref} style={{ width: 1168, height: 584 }} />;
}
